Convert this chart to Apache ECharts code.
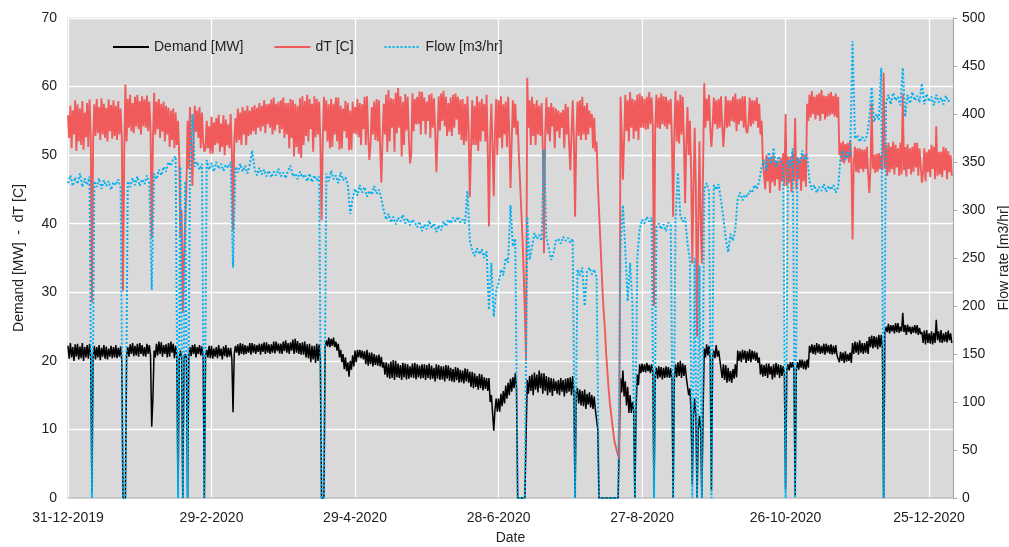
<!DOCTYPE html>
<html>
<head>
<meta charset="utf-8">
<script src="https://cdn.jsdelivr.net/npm/echarts/dist/echarts.min.js"></script>
<style>html,body{margin:0;padding:0;background:#fff}#c{width:1009px;height:547px}</style>
</head>
<body>
<div id="c"></div>
<script>
// x = days since 31-12-2019. Demand and dT: two readings per day (AM at day, PM at day+0.5); flow: one per day.
const xTickLabels = ['31-12-2019','29-2-2020','29-4-2020','28-6-2020','27-8-2020','26-10-2020','25-12-2020'];
const xTickStep = 60;

const demandAM = [
22.2,22.6,22.0,22.4,22.5,22.1,22.6,22.0,22.3,22.5,
1.0,22.2,22.0,22.3,21.9,22.3,22.1,21.8,22.2,22.0,
22.3,21.9,22.1,0,0,22.0,22.4,22.6,22.2,22.5,
22.6,22.3,22.0,22.5,22.3,10.4,21.5,22.5,22.8,22.7,
22.3,22.4,22.6,22.8,22.5,22.2,0,21.5,0,21.0,
0,22.0,22.3,22.4,22.0,22.3,22.1,0,21.6,22.2,
22.2,21.8,22.0,22.3,21.8,22.1,22.3,21.9,21.9,12.5,
22.2,22.4,22.6,22.5,22.3,22.2,22.6,22.6,22.4,22.3,
22.5,22.5,22.7,22.7,22.4,22.4,22.8,22.8,22.5,22.5,
22.8,23.0,22.6,22.7,23.1,23.2,22.9,22.6,22.7,22.8,
22.4,22.5,22.2,22.2,22.5,22.4,0,0,23.0,23.4,
23.2,23.4,22.8,22.5,21.6,21.0,20.5,19.8,20.0,20.8,
21.5,21.6,21.6,21.5,21.4,21.6,21.2,21.2,21.0,20.8,
20.9,20.6,19.8,19.8,19.6,19.9,20.1,20.0,19.6,19.4,
19.7,19.6,19.5,19.2,19.6,19.7,19.5,19.3,19.5,19.5,
19.4,19.6,19.3,19.0,19.5,19.4,19.2,19.2,19.4,19.3,
19.0,18.8,19.1,19.0,18.7,18.6,18.9,18.8,18.4,18.4,
18.2,17.8,18.1,18.0,17.6,17.5,17.5,15.0,9.8,14.5,
14.5,15.2,15.6,16.4,16.8,17.4,17.6,18.2,0,0,
0,0,17.2,17.8,18.0,18.3,18.0,18.6,18.2,18.2,
17.8,17.6,17.5,17.4,17.0,17.2,17.5,17.2,17.4,17.5,
17.6,17.8,0,16.0,15.8,15.6,15.8,15.2,15.4,15.0,
14.8,13.0,0,0,0,0,0,0,0,0,
0,17.5,18.6,17.0,16.2,15.0,14.0,0,18.0,19.5,
19.6,19.5,19.7,19.4,19.5,0,19.0,19.2,19.1,19.0,
19.2,19.1,18.9,0,19.5,19.8,20.0,19.6,19.4,17.7,
16.0,2.0,14.5,0,12.0,0,21.8,22.4,22.2,1.0,
21.5,22.3,21.5,20.0,19.5,19.4,19.0,18.5,18.8,19.5,
21.5,21.4,21.6,21.5,21.4,21.7,21.5,21.4,21.2,20.5,
19.5,19.4,19.6,19.6,19.2,19.5,19.7,19.5,19.4,19.2,
1.2,19.5,19.8,19.8,0.4,19.8,20.2,20.2,20.0,20.2,
22.2,22.4,22.3,22.6,22.4,22.2,22.5,22.5,22.3,22.4,
22.2,22.3,21.0,21.3,21.2,21.4,21.0,21.2,22.6,22.8,
22.7,23.0,22.6,22.6,22.9,23.5,23.7,23.6,23.5,23.8,
23.8,0,25.0,25.4,25.2,25.2,25.5,25.5,25.0,27.0,
25.2,25.3,25.0,25.0,25.2,25.2,24.8,24.2,24.4,24.5,
24.0,24.3,24.1,26.0,24.3,24.5,24.0,24.2,24.4,24.0
];
const demandPM = [
20.3,20.5,20.0,20.6,20.2,20.4,20.0,20.5,20.3,20.6,
20.6,20.2,20.5,20.1,20.6,20.3,20.2,20.6,20.4,20.5,
20.4,20.6,20.0,0,20.8,20.6,21.0,20.7,20.8,20.6,
21.0,20.7,20.6,21.0,20.8,14.5,20.5,20.8,21.0,20.6,
21.0,20.5,20.6,21.2,20.4,20.8,20.5,20.5,20.4,20.5,
20.6,20.7,21.0,20.5,21.0,20.8,20.5,20.8,20.5,20.4,
20.3,20.6,20.4,20.7,20.2,20.7,20.5,20.6,20.3,21.0,
21.2,20.8,21.0,20.9,21.0,21.2,20.9,21.2,21.0,21.3,
20.9,21.3,21.0,21.2,21.0,21.2,21.1,21.4,21.1,21.0,
21.4,21.2,21.0,21.5,21.0,21.2,21.0,20.9,20.9,20.5,
20.4,19.8,20.2,19.7,20.0,20.2,0,22.0,22.1,22.0,
22.2,22.0,21.5,20.5,19.8,18.8,18.5,17.7,18.7,19.2,
19.8,20.5,20.4,20.2,19.5,19.3,19.5,19.2,19.4,19.3,
19.2,19.0,18.0,17.6,17.4,17.5,17.2,17.6,17.5,17.2,
17.6,17.3,17.4,17.6,17.5,17.3,17.6,17.4,17.5,17.2,
17.5,17.3,17.4,17.0,17.4,17.2,17.3,17.0,17.4,17.1,
17.0,16.9,17.2,16.8,16.9,16.7,17.0,16.8,16.2,16.0,
16.2,15.8,16.0,15.7,15.9,15.6,14.0,12.5,12.8,12.6,
12.6,13.4,13.8,14.5,15.0,15.5,16.0,16.2,0,0,
0,0,15.2,15.6,15.0,15.8,15.4,16.0,15.2,15.6,
15.0,15.4,14.9,15.6,15.2,15.0,15.5,14.8,15.3,15.5,
15.0,15.4,15.6,13.8,13.5,13.4,13.0,13.6,13.2,13.0,
12.8,10.0,0,0,0,0,0,0,0,0,
0,15.4,14.8,13.5,12.4,12.4,12.8,13.0,16.5,18.2,
18.4,18.3,18.5,18.2,18.4,18.0,17.4,17.6,17.3,17.5,
17.6,17.5,17.3,17.5,17.6,17.8,17.5,17.8,17.6,15.0,
12.5,12.0,12.0,10.0,10.0,12.0,20.5,20.8,20.3,20.5,
20.4,20.6,20.2,17.5,17.2,16.8,17.0,16.8,17.4,17.6,
20.0,19.8,20.2,19.7,20.0,19.8,20.2,20.0,19.7,18.0,
17.7,17.8,17.5,18.0,17.3,17.6,18.0,17.5,17.8,18.2,
18.6,18.6,19.0,18.8,18.8,18.7,19.0,18.8,18.7,19.0,
21.2,21.0,20.9,21.2,21.0,21.1,20.9,21.2,21.0,20.9,
21.0,20.8,19.8,20.0,19.7,19.9,20.0,19.7,21.0,21.2,
20.9,21.2,21.0,21.2,21.0,22.0,21.8,22.0,21.7,22.0,
21.8,24.0,24.2,24.0,24.3,24.0,24.2,24.1,24.3,24.2,
23.8,24.2,23.9,24.1,24.0,23.8,23.9,22.6,22.4,22.6,
22.5,22.4,22.6,23.0,22.7,22.6,22.8,22.7,23.0,22.6
];

const dTAM = [
55.8,57.2,56.5,58.0,57.4,56.8,57.9,56.2,57.6,58.1,
28.5,57.4,58.2,57.0,58.3,57.5,56.9,58.1,57.3,58.0,
57.2,57.9,56.8,30.2,60.3,58.2,58.8,57.6,58.5,58.8,
57.9,58.6,58.1,58.7,57.8,37.9,59.1,57.8,58.2,57.5,
57.8,57.2,56.9,56.5,56.8,56.2,55.0,38.0,27.0,35.0,
55.0,57.0,45.5,57.2,56.5,57.0,56.2,50.5,55.0,54.2,
55.6,54.8,55.4,55.9,54.6,55.8,55.2,54.5,56.0,39.0,
55.4,56.8,56.2,57.0,56.5,57.2,56.5,57.0,57.3,56.9,
57.6,57.2,58.0,57.4,57.5,58.1,58.4,57.5,57.8,58.0,
58.4,57.6,57.6,58.2,58.0,57.5,57.2,58.3,58.6,57.9,
58.8,58.2,57.5,58.6,58.2,57.8,40.5,58.5,58.0,57.4,
58.2,57.5,58.4,58.4,57.2,56.8,57.9,57.6,56.5,57.8,
57.0,58.2,57.6,57.4,58.5,58.6,49.3,57.0,57.8,58.2,
58.0,46.0,57.5,58.8,59.5,58.3,58.2,59.1,59.8,58.6,
57.8,58.9,58.5,48.8,59.0,58.2,58.5,59.3,59.2,58.4,
57.8,58.8,59.0,58.3,47.5,58.6,59.0,59.4,58.5,57.6,
58.4,58.8,59.0,58.5,58.1,58.2,57.5,58.6,43.9,58.0,
57.2,58.6,57.8,58.2,57.5,58.8,39.6,57.5,44.0,58.2,
58.0,58.6,57.4,57.8,58.5,45.2,58.0,57.5,55.0,46.0,
38.0,27.0,61.3,58.0,58.5,57.5,58.0,57.2,57.6,35.7,
58.4,57.0,57.6,57.0,56.8,56.5,56.2,56.6,57.5,57.0,
47.8,58.0,41.0,57.8,58.0,58.5,57.2,57.6,56.5,56.0,
55.5,52.0,42.0,34.0,27.0,21.0,16.0,12.5,9.5,7.5,
6.2,58.5,46.4,58.8,58.0,59.2,58.2,58.0,58.8,59.0,
58.6,58.2,58.5,59.2,58.4,28.0,58.8,58.4,59.0,58.6,
58.5,58.0,58.2,41.0,59.4,58.0,58.8,58.5,43.0,57.0,
55.0,34.2,54.0,23.5,52.0,34.2,60.5,58.2,58.8,51.2,
58.4,58.0,58.2,58.6,51.2,58.6,58.0,58.0,58.5,59.0,
58.2,58.2,58.6,58.6,53.2,58.4,58.0,58.0,58.4,57.5,
55.0,49.5,50.0,49.5,49.8,50.0,49.2,49.2,49.6,50.3,
56.0,49.8,49.8,50.2,55.4,49.6,49.5,50.0,50.0,57.5,
58.8,59.3,58.5,58.8,59.0,59.5,58.7,58.6,59.0,59.2,
58.6,59.0,58.5,51.8,52.0,51.6,51.8,52.2,37.7,51.2,
51.0,51.0,50.8,50.8,51.2,44.5,57.6,50.0,50.2,50.3,
50.0,62.0,51.5,51.8,51.2,52.0,51.5,51.0,51.8,59.0,
51.2,51.6,51.0,51.2,51.8,51.8,51.0,46.0,51.0,50.5,
50.8,51.5,51.2,54.2,50.5,50.5,51.2,51.0,50.6,50.0
];
const dTPM = [
52.5,51.0,53.0,50.6,52.0,51.5,50.8,52.6,51.2,53.0,
52.0,52.8,53.2,52.2,53.0,52.5,52.0,53.5,52.4,52.8,
52.2,53.0,52.5,50.0,52.0,54.0,53.5,53.2,54.2,53.8,
53.0,54.2,54.0,53.5,53.8,52.0,53.0,53.8,52.5,53.4,
52.0,53.0,51.2,52.2,51.0,51.5,50.0,42.0,35.0,45.0,
48.0,52.0,52.5,53.4,52.5,51.0,52.0,51.0,51.0,50.2,
50.2,51.5,51.7,50.5,51.2,50.0,51.4,51.0,50.5,52.0,
51.8,52.2,51.5,53.0,51.5,52.8,53.0,53.5,53.0,54.0,
53.5,54.2,53.2,54.5,54.0,53.0,53.6,54.4,53.2,53.8,
52.5,53.0,51.0,52.5,49.8,51.2,50.2,49.6,51.5,52.8,
52.0,53.8,50.5,52.6,53.0,52.0,52.0,53.5,52.0,51.0,
51.2,53.0,52.0,50.8,51.0,53.5,52.5,50.7,50.8,53.2,
53.0,52.6,51.5,53.8,51.5,52.8,51.6,53.0,52.2,52.0,
51.2,52.5,53.0,50.5,52.0,54.0,50.5,53.2,54.0,49.8,
51.5,53.6,52.5,50.2,53.5,54.5,54.5,53.0,55.0,53.0,
55.0,52.5,54.0,53.6,52.6,53.6,55.0,54.2,52.8,53.4,
52.8,54.0,55.2,53.0,52.2,51.5,52.0,53.8,50.8,51.5,
51.5,50.6,52.0,53.5,52.0,50.4,52.5,51.0,53.2,50.0,
52.5,51.0,53.0,51.2,53.2,52.0,54.0,53.0,50.0,42.0,
33.0,20.0,54.0,51.5,52.8,51.5,53.0,52.8,51.0,53.0,
53.0,52.0,54.2,51.0,53.5,52.5,54.0,51.0,53.0,51.5,
53.0,52.2,52.5,52.8,52.2,53.0,52.2,53.0,54.0,51.0,
50.5,46.0,38.0,30.0,24.5,18.5,14.0,11.0,8.2,6.8,
5.8,53.0,52.4,53.5,52.0,54.0,52.4,53.5,52.2,54.0,
54.0,53.7,53.8,54.5,54.2,54.0,54.0,53.8,54.5,54.2,
53.8,54.5,52.0,53.5,52.0,51.7,53.0,52.2,51.7,50.0,
48.0,45.0,45.0,40.0,40.0,48.0,54.0,55.0,54.0,54.2,
54.5,53.8,54.0,54.6,54.2,54.0,54.2,55.0,54.8,53.5,
54.5,55.0,54.0,53.6,54.6,54.2,54.6,55.0,54.0,53.0,
49.3,45.0,46.2,44.5,46.0,45.5,46.5,44.8,46.2,45.5,
45.5,46.0,44.6,46.2,45.0,46.5,44.8,46.2,45.4,55.0,
55.5,56.0,55.2,55.8,55.0,56.0,55.2,55.6,55.8,56.0,
55.6,55.5,50.0,49.0,48.8,49.5,48.9,49.5,48.8,47.6,
47.4,48.0,47.6,48.0,47.5,48.0,48.0,47.4,47.6,48.0,
47.8,48.0,47.0,47.5,48.0,47.2,48.2,47.0,47.2,47.8,
46.9,48.0,47.2,47.6,48.2,47.0,48.5,47.5,46.2,47.5,
46.8,48.0,46.5,47.0,47.2,46.8,47.8,46.5,47.5,47.0
];

const flow = [
328,336,325,334,327,338,324,333,326,335,
0,330,324,333,322,331,325,330,321,329,
326,332,323,0,0,330,324,333,326,335,
325,332,327,336,328,217,338,332,342,336,
345,340,350,346,353,356,0,345,0,330,
0,340,400,345,350,342,348,0,352,342,
349,340,350,343,348,341,347,344,350,240,
345,339,348,340,346,338,347,362,343,336,
344,337,342,335,341,334,340,336,343,335,
339,333,341,346,335,338,332,340,334,337,
330,338,329,336,331,335,0,0,338,330,
341,332,336,328,339,331,334,326,296,312,
322,315,326,318,324,314,320,316,325,317,
321,312,300,290,296,287,293,285,292,288,
295,286,291,284,290,287,282,288,278,285,
280,289,281,286,277,284,279,288,283,290,
286,292,288,293,287,290,286,320,268,258,
252,260,254,259,250,257,196,245,189,215,
224,238,232,250,245,305,262,270,0,0,
0,0,293,248,262,276,270,274,268,363,
272,260,248,255,268,270,265,272,268,271,
266,270,0,238,232,240,200,236,240,233,
238,230,0,0,0,0,0,0,0,0,
0,262,305,258,205,245,201,0,250,280,
290,286,293,288,292,0,282,286,280,285,
278,287,284,0,290,339,294,288,292,265,
248,0,250,0,242,0,322,328,320,0,
326,321,327,310,292,270,256,275,268,280,
312,318,310,316,314,320,318,326,322,330,
345,352,341,360,348,365,344,356,350,347,
0,352,345,364,0,355,348,362,352,358,
330,321,326,318,324,320,327,319,325,321,
326,318,324,355,362,352,360,356,476,374,
378,371,376,372,377,395,428,392,400,394,
448,0,412,420,410,422,414,418,409,448,
397,420,411,423,414,419,412,432,410,421,
413,418,409,420,412,417,410,419,413,416
];

const FONT = '"Liberation Sans", Arial, sans-serif';
const TXT = '#222';
function daily(arr){ return arr.map((v,i)=>[i,v]); }
function twiceDaily(am, pm){
  const out = [];
  for (let i = 0; i < am.length; i++){ out.push([i, am[i]]); out.push([i + 0.5, pm[i]]); }
  return out;
}

const chart = echarts.init(document.getElementById('c'), null, {renderer:'canvas'});
chart.setOption({
  animation:false,
  textStyle:{fontFamily:FONT},
  grid:{left:68,right:56,top:18,bottom:49,outerBoundsMode:'none',containLabel:false,
        show:true,backgroundColor:'#D9D9D9',borderColor:'#C4C4C4',borderWidth:1},
  legend:{
    top:35,left:107,itemWidth:36,itemHeight:12,itemGap:30,
    itemStyle:{opacity:0},
    textStyle:{fontSize:14,color:TXT,fontFamily:FONT},
    data:['Demand [MW]','dT [C]','Flow [m3/hr]']
  },
  xAxis:{
    type:'value',min:0,max:370,interval:xTickStep,
    name:'Date',nameLocation:'middle',nameGap:33,
    nameTextStyle:{fontSize:14,color:TXT,fontFamily:FONT},
    axisLine:{show:true,lineStyle:{color:'#BFBFBF',width:1.5}},
    axisTick:{show:false},
    axisLabel:{fontSize:14,color:TXT,margin:13,showMaxLabel:false,fontFamily:FONT,
      formatter:function(v){ return (v % xTickStep === 0) ? (xTickLabels[v/xTickStep] || '') : ''; }},
    splitLine:{show:true,lineStyle:{color:'#FFFFFF',width:1.3}}
  },
  yAxis:[
    {type:'value',min:0,max:70,interval:10,position:'left',
     name:'Demand [MW]  -  dT [C]',nameLocation:'middle',nameGap:42,
     nameTextStyle:{fontSize:14,color:TXT,fontFamily:FONT},
     axisLine:{show:false},axisTick:{show:false},
     axisLabel:{fontSize:14,color:TXT,margin:11,fontFamily:FONT},
     splitLine:{show:true,lineStyle:{color:'#FFFFFF',width:1.3}}},
    {type:'value',min:0,max:500,interval:50,position:'right',
     name:'Flow rate [m3/hr]',nameLocation:'middle',nameGap:44,
     nameTextStyle:{fontSize:14,color:TXT,fontFamily:FONT},
     axisLine:{show:true,lineStyle:{color:'#A6A6A6',width:1}},
     axisTick:{show:true,length:4,lineStyle:{color:'#A6A6A6'}},
     axisLabel:{fontSize:14,color:TXT,margin:9,fontFamily:FONT},
     splitLine:{show:false}}
  ],
  series:[
    {name:'Demand [MW]',type:'line',yAxisIndex:0,data:twiceDaily(demandAM,demandPM),symbol:'none',showSymbol:false,
     lineStyle:{color:'#000000',width:1.5},itemStyle:{color:'#000000'},z:2},
    {name:'dT [C]',type:'line',yAxisIndex:0,data:twiceDaily(dTAM,dTPM),symbol:'none',showSymbol:false,
     lineStyle:{color:'#F05A5B',width:1.9},itemStyle:{color:'#F05A5B'},z:3},
    {name:'Flow [m3/hr]',type:'line',yAxisIndex:1,data:daily(flow),symbol:'none',showSymbol:false,
     lineStyle:{color:'#00B0F0',width:2,type:[2,2]},itemStyle:{color:'#00B0F0'},z:4}
  ]
});
</script>
</body>
</html>
